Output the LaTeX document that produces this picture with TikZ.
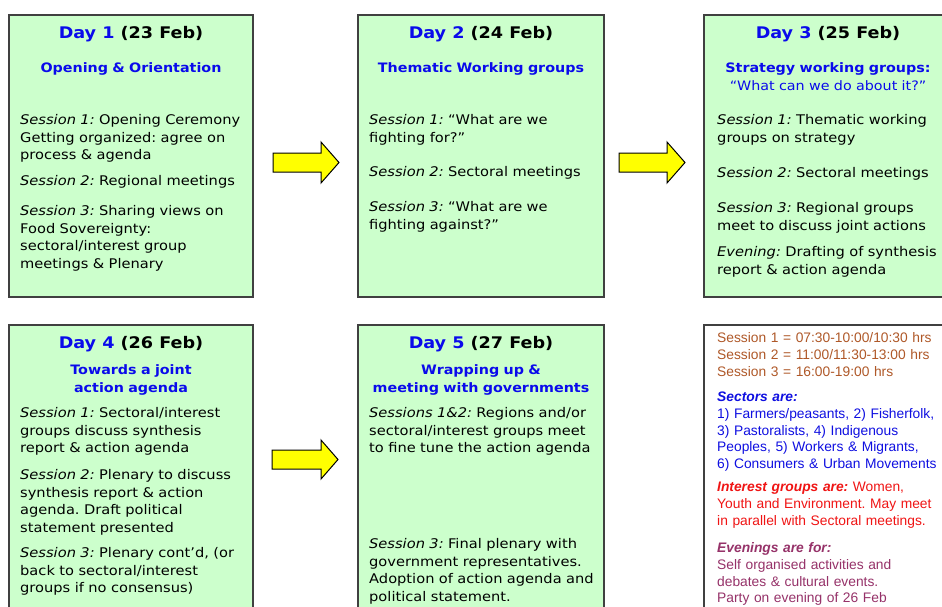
\documentclass[tikz,border=0pt]{standalone}
\usepackage{fontspec}
\setmainfont{DejaVu Sans}[FakeStretch=1.1]
\newfontfamily\notesfont{Liberation Sans}
\usetikzlibrary{positioning}
\definecolor{boxgreen}{RGB}{204,255,204}
\definecolor{boxline}{RGB}{64,64,64}
\definecolor{dayblue}{RGB}{10,10,235}
\definecolor{timebrown}{RGB}{175,88,40}
\definecolor{secblue}{RGB}{15,15,225}
\definecolor{intred}{RGB}{240,20,20}
\definecolor{evepurple}{RGB}{150,50,105}
\definecolor{arrowyellow}{RGB}{255,255,0}
\newcommand{\bodyfont}{\frenchspacing\fontsize{13.3}{17.5}\selectfont}
\newcommand{\titlefont}{\frenchspacing\fontsize{16}{20}\selectfont\bfseries}
\newcommand{\subfont}{\frenchspacing\fontsize{13}{17.8}\selectfont\bfseries\color{dayblue}}
\newcommand{\notefont}{\frenchspacing\notesfont\fontsize{13.8}{16.8}\selectfont}
\begin{document}
\begin{tikzpicture}[x=1pt,y=-1pt,
  daybox/.style={draw=boxline,line width=1.4pt,fill=boxgreen},
  notebox/.style={draw=boxline,line width=1.4pt,fill=white},
  title/.style={anchor=base,inner sep=0pt,font=\titlefont},
  subtitle/.style={anchor=base,inner sep=0pt,text width=240pt,align=center,font=\subfont},
  para/.style={anchor=base west,inner sep=0pt,text width=240pt,align=left,font=\bodyfont},
  notepara/.style={anchor=base west,inner sep=0pt,text width=240pt,align=left,font=\notefont},
  yarrow/.style={draw=black,line width=1pt,fill=arrowyellow,line join=miter}]
\useasboundingbox (0,0) rectangle (942,606);
% boxes
\path[daybox] (9,15) rectangle (253,297);
\path[daybox] (358,15) rectangle (604,297);
\path[daybox] (704,15) rectangle (950,297);
\path[daybox] (9,325) rectangle (253,625);
\path[daybox] (358,325) rectangle (604,625);
\path[notebox] (704,325) rectangle (950,625);
% arrows
\path[yarrow] (273,153) -- (321,153) -- (321,142) -- (339,162.5) -- (321,183) -- (321,172) -- (273,172) -- cycle;
\path[yarrow] (619,153) -- (667,153) -- (667,142) -- (685,162.5) -- (667,183) -- (667,172) -- (619,172) -- cycle;
\path[yarrow] (272,450) -- (321,450) -- (321,440) -- (338,459.5) -- (321,479) -- (321,469) -- (272,469) -- cycle;
% Day 1
\node[title] (t1) at (131,38) {\textcolor{dayblue}{Day 1} (23 Feb)};
\node[subtitle] (s1) at (131,72.5) {Opening \& Orientation};
\node[para] (p11) at (20,124.5) {\textit{Session 1:} Opening Ceremony\\Getting organized: agree on\\process \& agenda};
\node[para] (p12) at (20,185.5) {\textit{Session 2:} Regional meetings};
\node[para] (p13) at (20,215.5) {\textit{Session 3:} Sharing views on\\Food Sovereignty:\\sectoral/interest group\\meetings \& Plenary};
% Day 2
\node[title] (t2) at (481,38) {\textcolor{dayblue}{Day 2} (24 Feb)};
\node[subtitle] (s2) at (481,72.5) {Thematic Working groups};
\node[para] (p21) at (369,124.5) {\textit{Session 1:} “What are we\\fighting for?”};
\node[para] (p22) at (369,176.5) {\textit{Session 2:} Sectoral meetings};
\node[para] (p23) at (369,211.5) {\textit{Session 3:} “What are we\\fighting against?”};
% Day 3
\node[title] (t3) at (828,38) {\textcolor{dayblue}{Day 3} (25 Feb)};
\node[subtitle] (s3) at (828,72.5) {Strategy working groups:\\{\mdseries “What can we do about it?”}};
\node[para] (p31) at (717,124.5) {\textit{Session 1:} Thematic working\\groups on strategy};
\node[para] (p32) at (717,177.5) {\textit{Session 2:} Sectoral meetings};
\node[para] (p33) at (717,212.5) {\textit{Session 3:} Regional groups\\meet to discuss joint actions};
\node[para] (p34) at (717,256.5) {\textit{Evening:} Drafting of synthesis\\report \& action agenda};
% Day 4
\node[title] (t4) at (131,348) {\textcolor{dayblue}{Day 4} (26 Feb)};
\node[subtitle] (s4) at (131,374.5) {Towards a joint\\action agenda};
\node[para] (p41) at (20,417.5) {\textit{Session 1:} Sectoral/interest\\groups discuss synthesis\\report \& action agenda};
\node[para] (p42) at (20,479.5) {\textit{Session 2:} Plenary to discuss\\synthesis report \& action\\agenda. Draft political\\statement presented};
\node[para] (p43) at (20,557.5) {\textit{Session 3:} Plenary cont’d, (or\\back to sectoral/interest\\groups if no consensus)};
% Day 5
\node[title] (t5) at (481,348) {\textcolor{dayblue}{Day 5} (27 Feb)};
\node[subtitle] (s5) at (481,374.5) {Wrapping up \&\\meeting with governments};
\node[para] (p51) at (369,417.5) {\textit{Sessions 1\&2:} Regions and/or\\sectoral/interest groups meet\\to fine tune the action agenda};
\node[para] (p53) at (369,548.5) {\textit{Session 3:} Final plenary with\\government representatives.\\Adoption of action agenda and\\political statement.};
% Notes
\node[notepara,text=timebrown] (n1) at (717,342.5) {Session 1 = 07:30-10:00/10:30 hrs\\Session 2 = 11:00/11:30-13:00 hrs\\Session 3 = 16:00-19:00 hrs};
\node[notepara,text=secblue] (n2) at (717,401.5) {\textbf{\textit{Sectors are:}}\\1) Farmers/peasants, 2) Fisherfolk,\\3) Pastoralists, 4) Indigenous\\Peoples, 5) Workers \& Migrants,\\6) Consumers \& Urban Movements};
\node[notepara,text=intred] (n3) at (717,491.5) {\textbf{\textit{Interest groups are:}} Women,\\Youth and Environment. May meet\\in parallel with Sectoral meetings.};
\node[notepara,text=evepurple] (n4) at (717,552.5) {\textbf{\textit{Evenings are for:}}\\Self organised activities and\\debates \& cultural events.\\Party on evening of 26 Feb};
\end{tikzpicture}
\end{document}
